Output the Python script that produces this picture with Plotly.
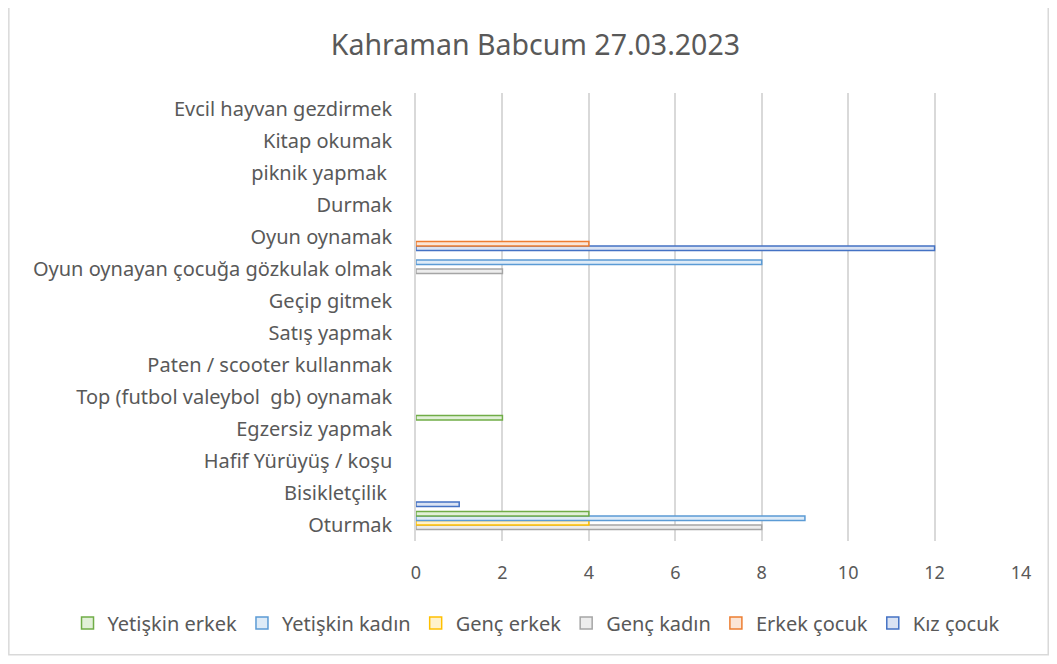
import plotly.graph_objects as go

# Categories (bottom to top as drawn)
activities = [
    "Oturmak",
    "Bisikletçilik ",
    "Hafif Yürüyüş / koşu",
    "Egzersiz yapmak",
    "Top (futbol valeybol  gb) oynamak",
    "Paten / scooter kullanmak",
    "Satış yapmak",
    "Geçip gitmek",
    "Oyun oynayan çocuğa gözkulak olmak",
    "Oyun oynamak",
    "Durmak",
    "piknik yapmak ",
    "Kitap okumak",
    "Evcil hayvan gezdirmek",
]

# Counts per group, same order as activities
yetiskin_erkek = [4, 0, 0, 2, 0, 0, 0, 0, 0, 0, 0, 0, 0, 0]
yetiskin_kadin = [9, 0, 0, 0, 0, 0, 0, 0, 8, 0, 0, 0, 0, 0]
genc_erkek = [4, 0, 0, 0, 0, 0, 0, 0, 0, 0, 0, 0, 0, 0]
genc_kadin = [8, 0, 0, 0, 0, 0, 0, 0, 2, 0, 0, 0, 0, 0]
erkek_cocuk = [0, 0, 0, 0, 0, 0, 0, 0, 0, 4, 0, 0, 0, 0]
kiz_cocuk = [0, 1, 0, 0, 0, 0, 0, 0, 0, 12, 0, 0, 0, 0]

x_ticks = [0, 2, 4, 6, 8, 10, 12, 14]

# name, values, outline colour, fill colour (legend order)
series = [
    ("Yetişkin erkek", yetiskin_erkek, "#70AD47", "#E2F0D9"),
    ("Yetişkin kadın", yetiskin_kadin, "#5B9BD5", "#DEEBF7"),
    ("Genç erkek", genc_erkek, "#FFC000", "#FFF2CC"),
    ("Genç kadın", genc_kadin, "#A5A5A5", "#EDEDED"),
    ("Erkek çocuk", erkek_cocuk, "#ED7D31", "#FBE5D6"),
    ("Kız çocuk", kiz_cocuk, "#4472C4", "#DAE3F3"),
]

fig = go.Figure()

# Plotly groups horizontal bars bottom-up, so add in reverse
for rank, (name, vals, line_col, fill_col) in reversed(list(enumerate(series))):
    fig.add_trace(go.Bar(
        y=activities,
        x=[v if v else None for v in vals],
        name=name,
        orientation="h",
        marker=dict(color=fill_col, line=dict(color=line_col, width=1.5)),
        legendrank=rank,
    ))

# note: the page body has an 8px margin, layout below accounts for it
fig.update_layout(
    width=1057,
    height=664,
    paper_bgcolor="white",
    plot_bgcolor="white",
    font=dict(family="Noto Sans, sans-serif", size=20, color="#595959"),
    title=dict(text="Kahraman Babcum 27.03.2023", x=0.499, xanchor="center",
               y=0.944, yanchor="middle", font=dict(size=28.5, color="#595959")),
    barmode="group",
    bargap=0.16,
    bargroupgap=0,
    margin=dict(l=408, r=44, t=85, b=131),
    legend=dict(orientation="h", x=-0.576, xanchor="left",
                y=-0.183, yanchor="middle",
                font=dict(size=20, color="#595959"), itemwidth=30),
    showlegend=True,
)

fig.update_xaxes(
    range=[0, 14],
    tickvals=x_ticks,
    tickfont=dict(size=18),
    showgrid=True,
    gridcolor="#D9D9D9",
    gridwidth=1.5,
    zeroline=False,
    showline=False,
    ticks="",
    ticklabelstandoff=19,
    automargin=False,
)
fig.update_yaxes(
    categoryorder="array",
    categoryarray=activities,
    showgrid=False,
    showline=True,
    linecolor="#D9D9D9",
    linewidth=1.5,
    ticks="",
    ticklabelstandoff=18,
    automargin=False,
)

# outer chart frame
fig.add_shape(type="rect", xref="paper", yref="paper",
              x0=-0.673, x1=1.045, y0=-0.254, y1=1.2,
              line=dict(color="#D9D9D9", width=1.5), fillcolor="rgba(0,0,0,0)",
              layer="below")

fig.write_html("out.html")
